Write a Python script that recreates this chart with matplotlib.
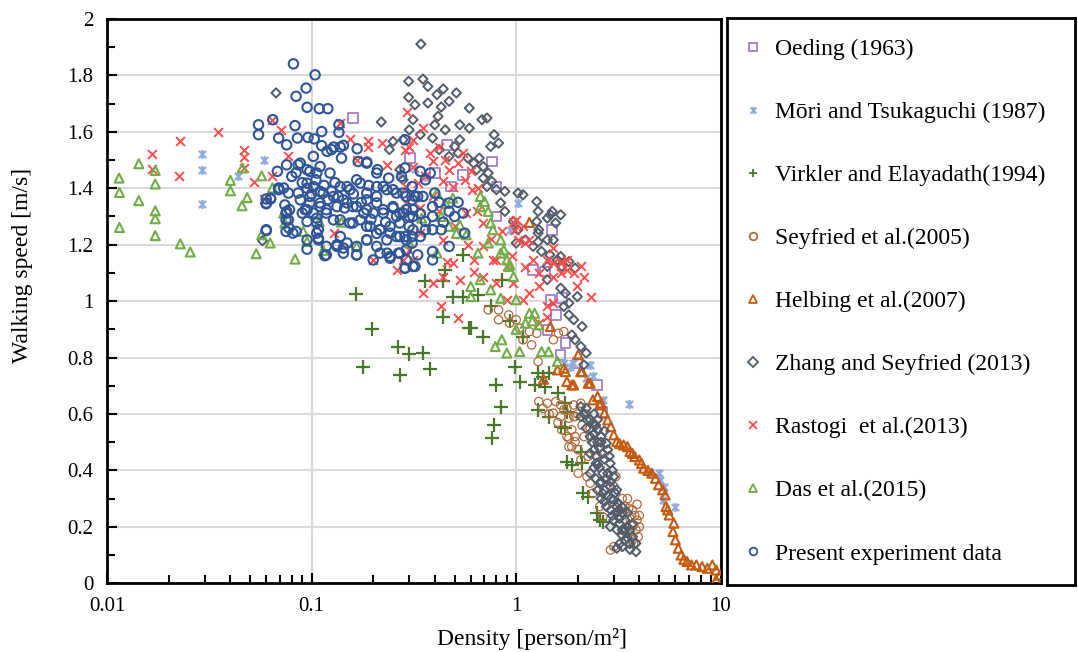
import matplotlib
matplotlib.use("Agg")
import matplotlib.pyplot as plt
from matplotlib.lines import Line2D
from matplotlib.path import Path
from matplotlib.ticker import FixedLocator, NullFormatter
import numpy as np

plt.rcParams['font.family'] = ['Liberation Serif', 'DejaVu Serif']

# (density [person/m2], walking speed [m/s])
oeding = [(0.159, 1.65), (0.303, 1.507), (0.46, 1.554), (0.40, 1.454), (0.48, 1.406),
          (0.55, 1.448), (0.76, 1.495), (0.80, 1.406), (0.80, 1.30), (1.50, 1.253),
          (1.21, 1.111), (1.38, 1.105), (1.47, 1.005), (1.67, 1.01), (1.56, 0.951),
          (1.42, 0.898), (1.74, 0.851), (1.65, 0.81), (1.99, 0.78), (2.48, 0.703),
          (2.62, 0.608)]

mori = [(0.0292, 1.522), (0.0292, 1.463), (0.0292, 1.345), (0.0438, 1.442), (0.0586, 1.501),
        (0.27, 1.45), (0.32, 1.47), (0.36, 1.44), (0.93, 1.253), (1.02, 1.348),
        (1.71, 0.78), (1.84, 0.768), (1.9, 0.78), (2.2, 0.727), (2.3, 0.774), (2.37, 0.733),
        (2.65, 0.65), (3.58, 0.635), (4.52, 0.39), (5.0, 0.392), (5.05, 0.366),
        (5.3, 0.343), (5.2, 0.295), (6.0, 0.272)]

virkler = [(0.164, 1.025), (0.197, 0.901), (0.263, 0.837), (0.30, 0.813), (0.35, 0.816),
           (0.178, 0.768), (0.27, 0.739), (0.38, 0.759), (0.44, 0.943), (0.59, 0.903),
           (0.36, 1.07), (0.44, 1.07), (0.49, 1.016), (0.55, 1.016), (0.45, 1.111),
           (0.55, 1.164), (0.65, 1.022), (0.75, 0.981), (0.60, 0.904), (0.69, 0.874),
           (0.80, 0.703), (0.84, 0.626), (0.78, 0.561), (0.76, 0.514), (0.99, 0.768),
           (1.04, 0.715), (1.08, 0.874), (0.85, 1.076), (0.93, 0.93), (1.28, 0.745),
           (1.44, 0.745), (1.39, 0.697), (1.24, 0.703), (1.35, 0.73), (1.61, 0.674),
           (1.28, 0.615), (1.44, 0.591), (1.65, 0.555), (1.74, 0.638), (1.77, 0.608),
           (1.74, 0.55), (2.07, 0.467), (1.77, 0.431), (1.87, 0.419), (2.1, 0.425),
           (2.13, 0.319), (2.25, 0.307), (2.48, 0.248), (2.56, 0.224), (2.67, 0.218)]

seyfried = [(0.73, 0.969), (0.82, 0.969), (0.82, 0.934), (0.92, 0.951), (1.0, 0.934),
            (0.93, 0.922), (1.04, 0.904), (1.16, 0.892), (1.26, 0.886), (1.08, 0.863),
            (1.19, 0.845), (1.28, 0.786), (1.52, 0.863), (1.61, 0.886), (1.71, 0.892),
            (1.29, 0.644), (1.42, 0.638), (1.56, 0.644), (1.65, 0.632), (1.77, 0.621),
            (1.91, 0.632), (2.07, 0.638), (1.52, 0.603), (1.65, 0.591), (1.81, 0.585),
            (1.94, 0.591), (1.67, 0.544), (1.77, 0.52), (1.87, 0.544), (1.81, 0.484),
            (1.94, 0.502), (1.71, 0.615), (1.91, 0.591), (1.81, 0.514), (1.94, 0.52),
            (1.87, 0.484), (2.01, 0.473), (2.07, 0.437), (2.01, 0.39), (2.22, 0.378),
            (2.3, 0.355), (2.37, 0.319), (2.56, 0.272), (2.65, 0.236), (2.89, 0.118),
            (3.0, 0.13), (3.07, 0.378), (3.0, 0.343), (3.2, 0.26), (3.4, 0.272),
            (3.55, 0.266), (3.7, 0.26), (3.9, 0.224), (3.85, 0.189), (3.95, 0.165),
            (3.75, 0.207), (3.6, 0.23), (3.44, 0.183), (3.6, 0.183), (3.7, 0.154),
            (3.75, 0.142), (2.3, 0.55), (2.4, 0.5), (2.5, 0.45), (3.3, 0.3),
            (3.8, 0.24), (4.0, 0.2), (2.2, 0.6), (2.1, 0.56), (1.35, 0.62),
            (1.45, 0.6), (1.6, 0.57), (2.0, 0.6), (2.15, 0.52), (2.25, 0.45),
            (3.5, 0.3), (3.9, 0.28), (4.0, 0.24)]

helbing = [(1.16, 1.279), (1.47, 0.91), (1.36, 0.723), (1.59, 0.756), (1.71, 0.762),
           (1.74, 0.75), (1.77, 0.715), (1.87, 0.703), (1.91, 0.703), (2.01, 0.81),
           (2.07, 0.75), (2.1, 0.75), (2.25, 0.709), (2.3, 0.709), (2.37, 0.65),
           (2.5, 0.662), (2.56, 0.632), (2.6, 0.638), (2.7, 0.603), (2.8, 0.579),
           (2.9, 0.555), (3.0, 0.526), (3.1, 0.502), (3.2, 0.495), (3.35, 0.49),
           (3.5, 0.484), (3.6, 0.467), (3.7, 0.46), (3.8, 0.449), (4.0, 0.437),
           (4.1, 0.425), (4.2, 0.408), (4.4, 0.4), (4.6, 0.39), (4.8, 0.372),
           (4.97, 0.349), (5.2, 0.331), (5.35, 0.313), (5.4, 0.272), (5.5, 0.26),
           (5.6, 0.242), (5.9, 0.213), (5.84, 0.183), (6.0, 0.154), (6.2, 0.124),
           (6.4, 0.10), (6.6, 0.085), (6.85, 0.077), (7.2, 0.065), (7.6, 0.065),
           (8.1, 0.059), (8.6, 0.053), (9.1, 0.065), (9.5, 0.047), (9.9, 0.029),
           (9.5, 0.012)]

zhang = [(0.067, 1.738), (0.219, 1.635), (0.298, 1.722), (0.0575, 1.214), (0.28, 1.572),
         (0.25, 1.566), (0.30, 1.607), (0.24, 1.537), (0.27, 1.466), (0.28, 1.43),
         (0.342, 1.911), (0.298, 1.779), (0.35, 1.787), (0.37, 1.761), (0.44, 1.752),
         (0.51, 1.738), (0.41, 1.732), (0.37, 1.702), (0.47, 1.708), (0.43, 1.688),
         (0.59, 1.684), (0.32, 1.696), (0.313, 1.643), (0.415, 1.655), (0.40, 1.625),
         (0.68, 1.643), (0.72, 1.649), (0.53, 1.625), (0.59, 1.613), (0.45, 1.607),
         (0.78, 1.59), (0.39, 1.578), (0.34, 1.59), (0.53, 1.572), (0.75, 1.548),
         (0.82, 1.56), (0.50, 1.548), (0.42, 1.537), (0.47, 1.513), (0.52, 1.525),
         (0.58, 1.507), (0.66, 1.507), (0.62, 1.489), (0.69, 1.477), (0.73, 1.454),
         (0.64, 1.466), (0.69, 1.436), (0.76, 1.424), (0.72, 1.406), (0.80, 1.395),
         (0.88, 1.389), (0.84, 1.348), (0.88, 1.318), (1.02, 1.383), (1.08, 1.377),
         (1.26, 1.353), (1.28, 1.318), (1.42, 1.294), (1.50, 1.318), (1.65, 1.306),
         (1.56, 1.277), (1.29, 1.253), (1.42, 1.217), (1.28, 1.21), (1.52, 1.217),
         (1.21, 1.194), (1.33, 1.176), (1.46, 1.164), (1.59, 1.146), (1.67, 1.123),
         (1.81, 1.14), (1.94, 1.117), (0.97, 1.282), (1.02, 1.253), (1.11, 1.217),
         (1.0, 1.206), (1.47, 1.306), (1.26, 1.282), (1.28, 1.241), (1.65, 1.158),
         (1.42, 1.123), (1.42, 1.076), (1.65, 1.046), (1.74, 1.028), (1.99, 1.016),
         (1.81, 0.993), (1.71, 0.981), (1.81, 0.951), (1.91, 0.934), (2.1, 0.91),
         (1.94, 0.863), (2.07, 0.839), (2.2, 0.816), (1.87, 0.88), (2.14, 0.774),
         (2.07, 0.626), (2.2, 0.62), (2.4, 0.6), (2.5, 0.58), (2.07, 0.591),
         (2.22, 0.579), (2.37, 0.567), (2.5, 0.544), (2.6, 0.52), (2.3, 0.52),
         (2.76, 0.496), (2.8, 0.473), (2.4, 0.473), (2.46, 0.425), (2.88, 0.425),
         (2.65, 0.39), (2.3, 0.39), (3.0, 0.378), (2.56, 0.355), (2.88, 0.343),
         (3.1, 0.331), (2.65, 0.319), (3.0, 0.295), (2.76, 0.272), (3.15, 0.284),
         (3.3, 0.248), (3.0, 0.224), (3.4, 0.224), (3.3, 0.189), (3.6, 0.189),
         (3.7, 0.165), (3.4, 0.154), (3.85, 0.142), (3.85, 0.112), (3.1, 0.124),
         (2.88, 0.201), (2.2, 0.55), (2.35, 0.5), (2.55, 0.48), (2.45, 0.45),
         (2.7, 0.44), (2.55, 0.41), (2.75, 0.37), (2.5, 0.33), (2.8, 0.31),
         (2.9, 0.26), (3.1, 0.25), (3.2, 0.21), (3.5, 0.2), (3.3, 0.17),
         (3.6, 0.14), (3.2, 0.14), (2.6, 0.3), (2.95, 0.4), (2.7, 0.54),
         (2.15, 0.6), (2.3, 0.58), (2.45, 0.56), (2.6, 0.5), (2.5, 0.5),
         (2.4, 0.53), (2.3, 0.46), (2.5, 0.42), (2.65, 0.46), (2.85, 0.45),
         (2.4, 0.41), (2.6, 0.36), (2.8, 0.39), (2.45, 0.37), (2.7, 0.33),
         (2.9, 0.36), (3.05, 0.32), (2.9, 0.3), (2.7, 0.29), (3.1, 0.27),
         (3.3, 0.27), (2.95, 0.24), (3.2, 0.23), (3.5, 0.25), (3.1, 0.19),
         (3.4, 0.19), (3.5, 0.16), (3.6, 0.12), (3.7, 0.21), (3.3, 0.13)]

rastogi = [(0.035, 1.599), (0.0228, 1.566), (0.0166, 1.522), (0.0166, 1.468), (0.0224, 1.442),
           (0.0468, 1.537), (0.0468, 1.511), (0.0468, 1.472), (0.0524, 1.421), (0.0643, 1.643),
           (0.071, 1.607), (0.077, 1.513), (0.0643, 1.442), (0.0584, 1.362), (0.128, 1.241),
           (0.138, 1.631), (0.154, 1.574), (0.189, 1.566), (0.189, 1.548), (0.22, 1.56),
           (0.233, 1.483), (0.292, 1.672), (0.286, 1.537), (0.313, 1.572), (0.166, 1.501),
           (0.26, 1.111), (0.20, 1.146), (0.313, 1.146), (0.35, 1.613), (0.30, 1.548),
           (0.38, 1.525), (0.42, 1.548), (0.313, 1.477), (0.39, 1.495), (0.47, 1.466),
           (0.55, 1.525), (0.52, 1.489), (0.36, 1.442), (0.29, 1.406), (0.44, 1.424),
           (0.56, 1.43), (0.61, 1.395), (0.49, 1.406), (0.39, 1.371), (0.34, 1.33),
           (0.29, 1.348), (0.64, 1.318), (0.69, 1.277), (0.57, 1.312), (0.50, 1.265),
           (0.44, 1.217), (0.34, 1.241), (0.30, 1.182), (0.28, 1.146), (0.46, 1.14),
           (0.69, 1.194), (0.62, 1.146), (0.80, 1.146), (0.97, 1.282), (0.99, 1.253),
           (1.08, 1.265), (1.02, 1.217), (1.11, 1.206), (1.21, 1.146), (1.42, 1.146),
           (1.52, 1.188), (1.65, 1.135), (1.77, 1.146), (0.42, 1.318), (1.0, 1.288),
           (1.16, 1.217), (1.52, 1.135), (1.65, 1.14), (1.91, 1.099), (2.14, 1.087),
           (2.32, 1.016), (1.99, 1.052), (1.52, 1.087), (1.65, 1.099), (1.29, 1.052),
           (1.16, 1.028), (1.08, 1.005), (1.42, 0.981), (1.42, 0.945), (1.29, 0.922),
           (1.52, 0.993), (0.90, 1.005), (0.80, 1.064), (0.69, 1.087), (0.62, 1.105),
           (0.53, 1.076), (0.44, 1.087), (0.39, 1.064), (0.35, 1.028), (0.43, 0.981),
           (0.49, 1.135), (0.77, 1.146), (0.90, 1.123), (0.97, 1.064), (1.77, 1.111),
           (2.07, 1.123), (0.52, 0.94), (0.58, 1.2), (0.75, 1.22), (0.85, 1.25),
           (0.65, 1.4), (0.45, 1.5), (0.6, 1.46), (0.33, 1.42), (0.95, 1.16),
           (1.3, 1.1), (1.1, 1.12)]

das = [(0.01145, 1.436), (0.0115, 1.385), (0.0143, 1.487), (0.0143, 1.356), (0.0172, 1.463),
       (0.0172, 1.415), (0.0172, 1.32), (0.0172, 1.292), (0.0172, 1.232), (0.0115, 1.261),
       (0.0228, 1.203), (0.0255, 1.174), (0.0401, 1.428), (0.0401, 1.391), (0.0459, 1.472),
       (0.0484, 1.367), (0.0457, 1.338), (0.0536, 1.168), (0.057, 1.444), (0.0643, 1.401),
       (0.057, 1.235), (0.0627, 1.206), (0.083, 1.149), (0.091, 1.247), (0.109, 1.282),
       (0.095, 1.211), (0.114, 1.18), (0.14, 1.28), (0.074, 1.277), (0.073, 1.312),
       (0.166, 1.194), (0.409, 1.383), (0.45, 1.347), (0.49, 1.365), (0.667, 1.371),
       (0.70, 1.353), (0.345, 1.294), (0.43, 1.30), (0.47, 1.265), (0.53, 1.27),
       (0.57, 1.235), (0.667, 1.335), (0.73, 1.318), (0.75, 1.277), (0.77, 1.253),
       (0.84, 1.217), (0.87, 1.182), (0.90, 1.146), (0.93, 1.129), (0.41, 1.17),
       (0.65, 1.17), (0.30, 1.206), (0.51, 1.24), (0.73, 1.206), (0.84, 1.17),
       (0.92, 1.123), (0.97, 1.087), (0.60, 1.052), (0.667, 1.076), (0.75, 1.04),
       (0.84, 1.01), (1.0, 1.005), (0.60, 1.016), (1.16, 0.957), (1.23, 0.957),
       (1.11, 0.922), (1.29, 0.916), (0.79, 0.839), (0.90, 0.816), (1.04, 0.821),
       (1.33, 0.821), (1.44, 0.821), (0.85, 0.863), (1.59, 0.786), (1.2, 0.93),
       (1.0, 0.9)]

present = [(0.0815, 1.841), (0.104, 1.802), (0.094, 1.755), (0.084, 1.726), (0.095, 1.687),
           (0.109, 1.682), (0.12, 1.682), (0.055, 1.625), (0.055, 1.59), (0.0646, 1.643),
           (0.083, 1.622), (0.069, 1.578), (0.0755, 1.554), (0.0852, 1.578), (0.096, 1.58),
           (0.112, 1.601), (0.136, 1.625), (0.136, 1.598), (0.112, 1.551), (0.128, 1.546),
           (0.143, 1.552), (0.167, 1.54), (0.06, 1.362), (0.063, 1.362), (0.06, 1.345),
           (0.068, 1.46), (0.0755, 1.483), (0.088, 1.489), (0.102, 1.513), (0.119, 1.531),
           (0.069, 1.401), (0.077, 1.383), (0.0755, 1.318), (0.075, 1.288), (0.0775, 1.259),
           (0.084, 1.247), (0.095, 1.217), (0.095, 1.184), (0.06, 1.253), (0.106, 1.241),
           (0.108, 1.217), (0.118, 1.194), (0.133, 1.2), (0.143, 1.188), (0.166, 1.164),
           (0.116, 1.161), (0.084, 1.455), (0.095, 1.466), (0.106, 1.454), (0.095, 1.418),
           (0.102, 1.406), (0.11, 1.389), (0.088, 1.359), (0.098, 1.348), (0.11, 1.348),
           (0.093, 1.324), (0.102, 1.312), (0.118, 1.324), (0.095, 1.282), (0.106, 1.277),
           (0.128, 1.288), (0.143, 1.359), (0.159, 1.335), (0.128, 1.371), (0.149, 1.406),
           (0.166, 1.43), (0.186, 1.489), (0.208, 1.454), (0.224, 1.406), (0.25, 1.395),
           (0.28, 1.383), (0.31, 1.359), (0.208, 1.371), (0.186, 1.359), (0.18, 1.312),
           (0.2, 1.312), (0.224, 1.324), (0.25, 1.335), (0.27, 1.312), (0.30, 1.30),
           (0.159, 1.277), (0.186, 1.265), (0.216, 1.253), (0.242, 1.241), (0.27, 1.229),
           (0.31, 1.229), (0.186, 1.217), (0.208, 1.194), (0.234, 1.17), (0.266, 1.17),
           (0.286, 1.117), (0.32, 1.123), (0.2, 1.146), (0.242, 1.152), (0.103, 1.575),
           (0.125, 1.537), (0.138, 1.546), (0.14, 1.507), (0.169, 1.495), (0.186, 1.493),
           (0.21, 1.466), (0.238, 1.436), (0.275, 1.442), (0.086, 1.483), (0.098, 1.46),
           (0.11, 1.477), (0.123, 1.454), (0.08, 1.442), (0.073, 1.401), (0.086, 1.383),
           (0.098, 1.371), (0.114, 1.383), (0.11, 1.335), (0.095, 1.324), (0.078, 1.324),
           (0.069, 1.395), (0.063, 1.365), (0.06, 1.348), (0.074, 1.341), (0.075, 1.312),
           (0.077, 1.288), (0.09, 1.312), (0.106, 1.294), (0.118, 1.312), (0.133, 1.335),
           (0.138, 1.406), (0.154, 1.395), (0.173, 1.418), (0.186, 1.383), (0.208, 1.406),
           (0.233, 1.395), (0.26, 1.383), (0.29, 1.371), (0.33, 1.371), (0.149, 1.348),
           (0.166, 1.335), (0.186, 1.324), (0.208, 1.348), (0.224, 1.312), (0.25, 1.33),
           (0.28, 1.312), (0.313, 1.324), (0.138, 1.288), (0.154, 1.277), (0.173, 1.288),
           (0.193, 1.265), (0.216, 1.253), (0.242, 1.265), (0.27, 1.277), (0.30, 1.265),
           (0.075, 1.247), (0.081, 1.241), (0.108, 1.253), (0.108, 1.223), (0.06, 1.25),
           (0.138, 1.229), (0.149, 1.206), (0.166, 1.194), (0.133, 1.194), (0.118, 1.164),
           (0.143, 1.17), (0.166, 1.164), (0.186, 1.217), (0.208, 1.24), (0.216, 1.17),
           (0.242, 1.158), (0.27, 1.17), (0.286, 1.117), (0.313, 1.123), (0.233, 1.217),
           (0.26, 1.229), (0.29, 1.217), (0.286, 1.572), (0.286, 1.472), (0.31, 1.406),
           (0.34, 1.46), (0.38, 1.454), (0.36, 1.43), (0.32, 1.371), (0.35, 1.371),
           (0.39, 1.335), (0.29, 1.324), (0.313, 1.30), (0.36, 1.282), (0.39, 1.30),
           (0.313, 1.253), (0.36, 1.253), (0.286, 1.229), (0.31, 1.206), (0.34, 1.229),
           (0.39, 1.253), (0.43, 1.253), (0.47, 1.348), (0.47, 1.318), (0.40, 1.383),
           (0.55, 1.312), (0.56, 1.241), (0.47, 1.194), (0.39, 1.176), (0.33, 1.164),
           (0.29, 1.146), (0.39, 1.146), (0.29, 1.182), (0.095, 1.40), (0.105, 1.43),
           (0.115, 1.41), (0.125, 1.39), (0.135, 1.37), (0.12, 1.36), (0.1, 1.38),
           (0.09, 1.42), (0.13, 1.42), (0.145, 1.33), (0.16, 1.38), (0.175, 1.35),
           (0.195, 1.29), (0.23, 1.28), (0.26, 1.30), (0.19, 1.41), (0.34, 1.31),
           (0.44, 1.28), (0.5, 1.3), (0.42, 1.35), (0.52, 1.35)]

labels = ['Oeding (1963)', 'Mōri and Tsukaguchi (1987)', 'Virkler and Elayadath(1994)',
          'Seyfried et al.(2005)', 'Helbing et al.(2007)', 'Zhang and Seyfried (2013)',
          'Rastogi  et al.(2013)', 'Das et al.(2015)', 'Present experiment data']

# Excel style "star" marker: an x with a vertical bar
star = Path([(-1, -1), (1, 1), (-1, 1), (1, -1), (0, -1.25), (0, 1.25)],
            [Path.MOVETO, Path.LINETO] * 3)

# series, marker, colour, size, line width
styles = [
    (oeding, 's', '#A27DC9', 48, 1.3),
    (mori, star, '#8FAADC', 42, 1.6),
    (virkler, '+', '#4A7729', 95, 1.6),
    (seyfried, 'o', '#B06A3A', 36, 0.9),
    (helbing, '^', '#C55A11', 42, 1.5),
    (zhang, 'D', '#525D6B', 22, 1.4),
    (rastogi, 'x', '#FF4D4D', 40, 1.4),
    (das, '^', '#70AD47', 42, 1.5),
    (present, 'o', '#2F5597', 46, 1.5),
]

fig = plt.figure(figsize=(10.78, 6.52), dpi=100)
ax = fig.add_axes([0.0993, 0.1054, 0.5693, 0.8655])

handles = []
for (pts, mk, col, size, lw), lab in zip(styles, labels):
    x = np.array([p[0] for p in pts])
    y = np.array([p[1] for p in pts])
    line_mark = mk in ('+', 'x') or mk is star
    if line_mark:
        ax.scatter(x, y, marker=mk, s=size, c=col, linewidths=lw, zorder=3)
    else:
        ax.scatter(x, y, marker=mk, s=size, facecolors='none', edgecolors=col,
                   linewidths=lw, zorder=3)
    handles.append(Line2D([], [], linestyle='none', marker=mk, markersize=5.5,
                          markerfacecolor=col if line_mark else 'none',
                          markeredgecolor=col, markeredgewidth=1.3))

ax.set_xscale('log')
ax.set_xlim(0.01, 10)
ax.set_ylim(0, 2)

ax.xaxis.set_major_locator(FixedLocator([0.01, 0.1, 1, 10]))
ax.set_xticklabels(['0.01', '0.1', '1', '10'])
ax.xaxis.set_minor_locator(FixedLocator([m * 10.0 ** e for e in (-2, -1, 0) for m in range(2, 10)]))
ax.xaxis.set_minor_formatter(NullFormatter())
ax.yaxis.set_major_locator(FixedLocator(np.arange(0, 2.01, 0.2)))
ax.set_yticklabels(['0', '0.2', '0.4', '0.6', '0.8', '1', '1.2', '1.4', '1.6', '1.8', '2'])
ax.yaxis.set_minor_locator(FixedLocator(np.arange(0.1, 2.0, 0.2)))

ax.tick_params(which='both', direction='in', width=1.5, labelsize=15, colors='black')
ax.tick_params(which='major', length=7, pad=10)
ax.tick_params(which='minor', length=6)
ax.grid(True, which='major', color='#D9D9D9', linewidth=1.5, zorder=0)
ax.set_axisbelow(True)
for sp in ax.spines.values():
    sp.set_linewidth(2)
    sp.set_color('black')

ax.set_xlabel('Density [person/m²]', fontsize=17)
ax.xaxis.set_label_coords(0.692, -0.08)
ax.set_ylabel('Walking speed [m/s]', fontsize=17)
ax.yaxis.set_label_coords(-0.12, 0.564)

# legend in its own framed box to the right
ax_leg = fig.add_axes([0.6744, 0.1028, 0.3228, 0.8696])
ax_leg.set_xticks([])
ax_leg.set_yticks([])
for sp in ax_leg.spines.values():
    sp.set_linewidth(2)
    sp.set_color('black')
ax_leg.legend(handles, labels, loc='center left', bbox_to_anchor=(0.02, 0.5),
              frameon=False, fontsize=17, labelspacing=1.76, handlelength=0.8,
              handletextpad=0.55, borderaxespad=0)

fig.savefig('out.png', dpi=100)
